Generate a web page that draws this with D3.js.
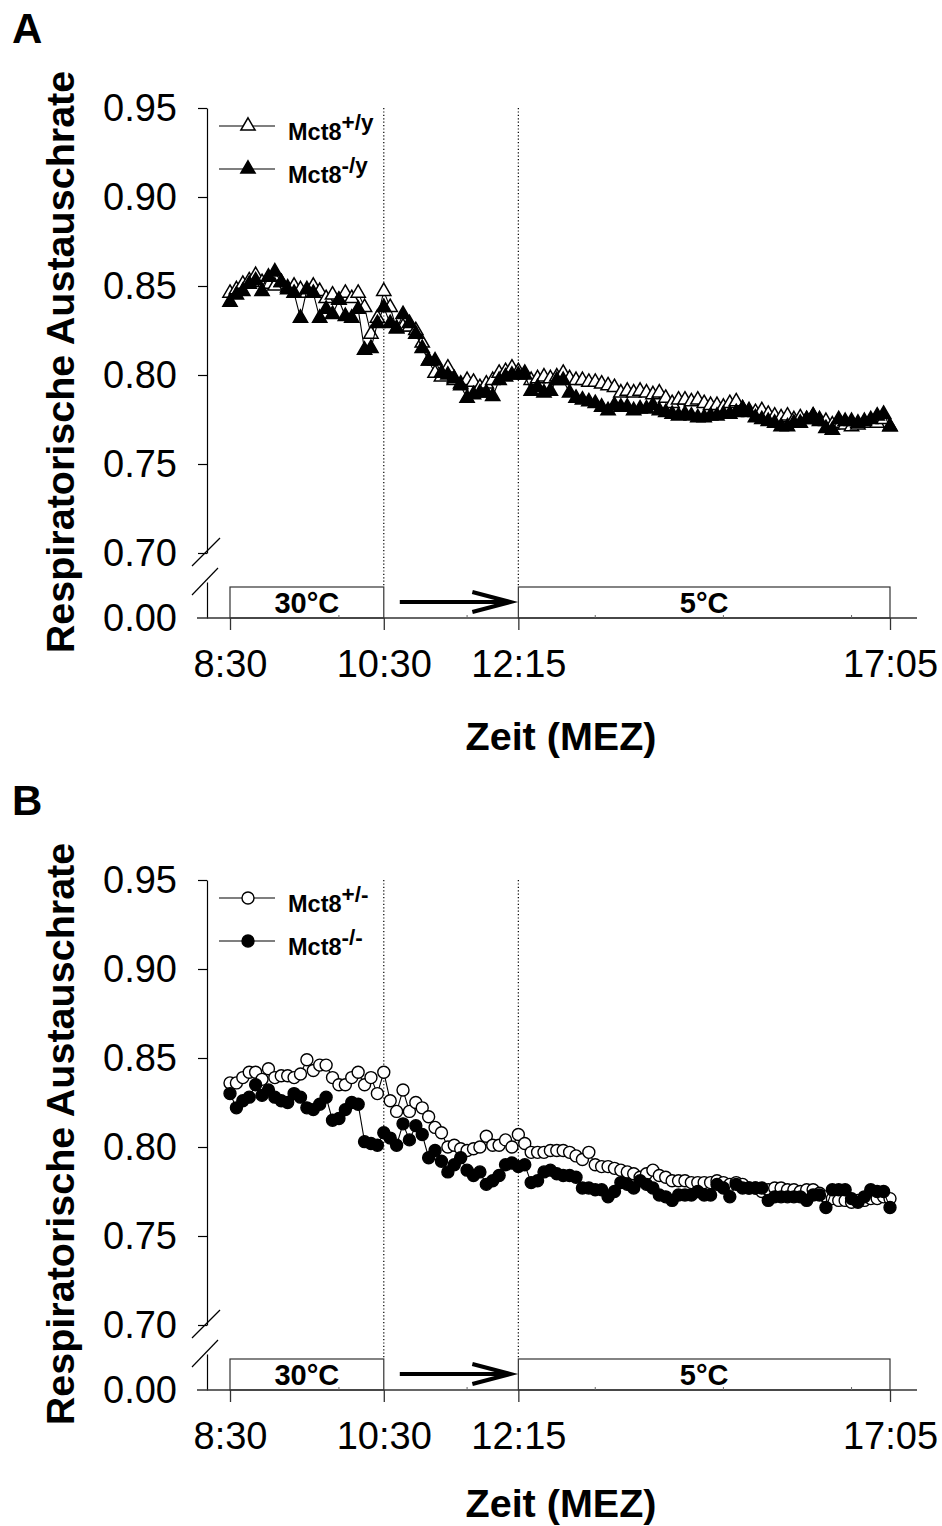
<!DOCTYPE html>
<html><head><meta charset="utf-8">
<script src="https://cdn.jsdelivr.net/npm/d3@7"></script>
<style>body{margin:0;background:#fff}</style>
</head><body>
<svg id="chart" width="942" height="1526"></svg>
<script>
// ---------- data ----------
const sampleStepMin = 5;               // minutes between samples, starting 8:30
const xTickMinutes = [0, 120, 225, 515];
const xTickLabels = ["8:30", "10:30", "12:15", "17:05"];
const minorTickMinutes = [85, 185, 285, 385, 485];
const yTicks = [0.70, 0.75, 0.80, 0.85, 0.90, 0.95];
const zeroTick = [0.00];
const phaseLabels = ["30°C", "5°C"];
const phaseStart = [0, 225];
const phaseEnd = [120, 515];
const switchMarks = [120, 225];
const panelLabels = ["A", "B"];
const yAxisTitle = "Respiratorische Austauschrate";
const xAxisTitle = "Zeit (MEZ)";
const legendA = [["Mct8", "+/y"], ["Mct8", "-/y"]];
const legendB = [["Mct8", "+/-"], ["Mct8", "-/-"]];

const rqA_wt = [
0.846,0.848,0.851,0.853,0.856,0.852,0.851,0.850,0.852,0.849,
0.850,0.848,0.846,0.850,0.847,0.843,0.845,0.842,0.846,0.843,
0.846,0.838,0.823,0.832,0.847,0.838,0.826,0.827,0.827,0.825,
0.818,0.808,0.801,0.799,0.804,0.797,0.795,0.797,0.796,0.793,
0.795,0.797,0.801,0.802,0.804,0.802,0.801,0.797,0.798,0.799,
0.798,0.799,0.801,0.798,0.797,0.797,0.796,0.796,0.795,0.794,
0.793,0.790,0.791,0.790,0.791,0.790,0.789,0.790,0.787,0.784,
0.786,0.786,0.785,0.786,0.784,0.783,0.783,0.782,0.784,0.785,
0.781,0.780,0.779,0.780,0.778,0.777,0.776,0.777,0.775,0.776,
0.775,0.777,0.775,0.774,0.772,0.773,0.772,0.771,0.772,0.773,
0.774,0.773,0.775,0.771];
const rqA_ko = [
0.841,0.845,0.847,0.851,0.853,0.847,0.855,0.858,0.852,0.848,
0.846,0.832,0.848,0.846,0.832,0.837,0.834,0.842,0.833,0.832,
0.837,0.814,0.815,0.829,0.838,0.829,0.826,0.834,0.829,0.823,
0.815,0.808,0.808,0.801,0.800,0.798,0.794,0.787,0.789,0.790,
0.790,0.788,0.797,0.799,0.800,0.800,0.800,0.791,0.793,0.790,
0.791,0.797,0.797,0.790,0.787,0.786,0.785,0.784,0.782,0.780,
0.783,0.782,0.782,0.780,0.781,0.781,0.783,0.780,0.779,0.778,
0.777,0.778,0.777,0.776,0.776,0.777,0.777,0.778,0.778,0.779,
0.781,0.779,0.776,0.775,0.774,0.773,0.771,0.771,0.773,0.773,
0.775,0.777,0.774,0.770,0.769,0.775,0.774,0.774,0.773,0.774,
0.775,0.777,0.778,0.771];
const rqB_wt = [
0.836,0.836,0.839,0.842,0.842,0.838,0.844,0.839,0.840,0.840,
0.839,0.841,0.849,0.843,0.846,0.846,0.839,0.835,0.835,0.839,
0.842,0.835,0.839,0.830,0.842,0.826,0.820,0.832,0.820,0.825,
0.822,0.817,0.811,0.808,0.800,0.801,0.799,0.798,0.799,0.800,
0.806,0.801,0.801,0.804,0.800,0.807,0.802,0.797,0.797,0.797,
0.798,0.798,0.798,0.797,0.795,0.793,0.797,0.790,0.789,0.789,
0.788,0.787,0.786,0.785,0.783,0.785,0.787,0.784,0.783,0.781,
0.781,0.781,0.780,0.780,0.780,0.780,0.781,0.780,0.779,0.780,
0.779,0.777,0.777,0.775,0.776,0.777,0.777,0.776,0.776,0.775,
0.776,0.776,0.774,0.772,0.771,0.770,0.770,0.769,0.770,0.770,
0.771,0.771,0.772,0.771];
const rqB_ko = [
0.830,0.822,0.826,0.828,0.835,0.829,0.832,0.828,0.826,0.825,
0.830,0.828,0.822,0.821,0.824,0.828,0.815,0.816,0.821,0.825,
0.824,0.803,0.802,0.801,0.808,0.805,0.801,0.813,0.804,0.812,
0.807,0.794,0.798,0.792,0.786,0.790,0.794,0.787,0.784,0.786,
0.779,0.781,0.784,0.790,0.791,0.789,0.790,0.780,0.781,0.786,
0.787,0.785,0.784,0.784,0.783,0.777,0.777,0.776,0.776,0.772,
0.775,0.780,0.779,0.777,0.781,0.779,0.777,0.773,0.772,0.770,
0.773,0.773,0.773,0.775,0.773,0.773,0.779,0.777,0.772,0.779,
0.777,0.777,0.777,0.777,0.770,0.772,0.772,0.772,0.772,0.772,
0.770,0.773,0.773,0.766,0.776,0.776,0.776,0.771,0.769,0.772,
0.776,0.775,0.775,0.766];

// ---------- drawing ----------
const FONT = "'Liberation Sans', Arial, Helvetica, sans-serif";
const svg = d3.select("#chart");
const x = d3.scaleLinear().domain([0, 515]).range([230, 890]);

function toPoints(arr) { return arr.map((v, i) => ({ t: i * sampleStepMin, v })); }

const panels = [
  { off: 0, xTitleY: 750, label: panelLabels[0], legend: legendA, symbol: "tri", wt: rqA_wt, ko: rqA_ko },
  { off: 772, xTitleY: 1517, label: panelLabels[1], legend: legendB, symbol: "circ", wt: rqB_wt, ko: rqB_ko }
];

function marker(sel, type, filled) {
  if (type === "tri") {
    sel.append("path")
      .attr("d", d3.symbol().type(d3.symbolTriangle).size(88)())
      .attr("fill", filled ? "#000" : "#fff")
      .attr("stroke", "#000").attr("stroke-width", 1.5);
  } else {
    sel.append("circle").attr("r", 6)
      .attr("fill", filled ? "#000" : "#fff")
      .attr("stroke", "#000").attr("stroke-width", 1.4);
  }
}

panels.forEach(p => {
  const g = svg.append("g");
  const off = p.off;
  const y = d3.scaleLinear().domain([0.70, 0.95]).range([553 + off, 108 + off]);
  const yLow = d3.scaleLinear().domain([0, 0.02]).range([618 + off, 582 + off]);
  const axisX0 = 207;

  // panel letter
  g.append("text").attr("x", 12).attr("y", 43 + off).text(p.label)
    .attr("font-family", FONT).attr("font-weight", "bold").attr("font-size", 42);

  // y title
  g.append("text").attr("transform", `translate(74,${362 + off}) rotate(-90)`)
    .attr("text-anchor", "middle").attr("font-family", FONT).attr("font-weight", "bold")
    .attr("font-size", 39.5).text(yAxisTitle);

  // x title
  g.append("text").attr("x", 561).attr("y", p.xTitleY).attr("text-anchor", "middle")
    .attr("font-family", FONT).attr("font-weight", "bold").attr("font-size", 39.5).text(xAxisTitle);

  // dotted switch lines
  g.selectAll("line.sw").data(switchMarks).join("line")
    .attr("x1", d => x(d)).attr("x2", d => x(d))
    .attr("y1", y(0.95)).attr("y2", 587 + off)
    .attr("stroke", "#000").attr("stroke-width", 1.2).attr("stroke-dasharray", "1.2,2.2");

  // upper y axis
  const ya = g.append("g").attr("transform", `translate(${axisX0},0)`)
    .call(d3.axisLeft(y).tickValues(yTicks).tickFormat(d3.format(".2f")).tickSize(9).tickSizeOuter(0).tickPadding(21));
  // lower y axis
  const yb = g.append("g").attr("transform", `translate(${axisX0},0)`)
    .call(d3.axisLeft(yLow).tickValues(zeroTick).tickFormat(d3.format(".2f")).tickSize(0).tickSizeOuter(0).tickPadding(30));
  [ya, yb].forEach(a => {
    a.selectAll("text").attr("font-family", FONT).attr("font-size", 38).attr("fill", "#000");
    a.selectAll("line,path").attr("stroke", "#000").attr("stroke-width", 1.2);
  });

  // break slashes
  [[192, 566, 220, 538], [192, 595, 218, 568]].forEach(s => {
    g.append("line").attr("x1", s[0]).attr("y1", s[1] + off).attr("x2", s[2]).attr("y2", s[3] + off)
      .attr("stroke", "#000").attr("stroke-width", 1.2);
  });

  // phase boxes
  phaseLabels.forEach((lab, i) => {
    g.append("rect").attr("x", x(phaseStart[i])).attr("y", 587 + off)
      .attr("width", x(phaseEnd[i]) - x(phaseStart[i])).attr("height", 31)
      .attr("fill", "#fff").attr("stroke", "#333").attr("stroke-width", 1.2);
    g.append("text").attr("x", (x(phaseStart[i]) + x(phaseEnd[i])) / 2).attr("y", 613 + off)
      .attr("text-anchor", "middle").attr("font-family", FONT).attr("font-weight", "bold")
      .attr("font-size", 29).text(lab);
  });
  // arrow between phases
  const ax1 = x(phaseEnd[0]) + 16, ax2 = x(phaseStart[1]) - 8, ay = 602 + off;
  g.append("line").attr("x1", ax1).attr("x2", ax2).attr("y1", ay).attr("y2", ay)
    .attr("stroke", "#000").attr("stroke-width", 4);
  g.append("path").attr("d", `M${ax2 - 38},${ay - 10} L${ax2},${ay} L${ax2 - 38},${ay + 10}`)
    .attr("fill", "none").attr("stroke", "#000").attr("stroke-width", 4).attr("stroke-linejoin", "miter");

  // x axis
  g.append("line").attr("x1", 197).attr("x2", 917).attr("y1", 618 + off).attr("y2", 618 + off)
    .attr("stroke", "#333").attr("stroke-width", 1.3);
  const xa = g.append("g").attr("transform", `translate(0,${618 + off})`)
    .call(d3.axisBottom(x).tickValues(xTickMinutes).tickFormat((d, i) => xTickLabels[i]).tickSize(12).tickSizeOuter(0).tickPadding(20));
  xa.select(".domain").remove();
  xa.selectAll("line").attr("stroke", "#333").attr("stroke-width", 1.3);
  xa.selectAll("text").attr("font-family", FONT).attr("font-size", 38).attr("fill", "#000");
  g.selectAll("line.minor").data(minorTickMinutes).join("line")
    .attr("x1", d => x(d)).attr("x2", d => x(d)).attr("y1", 618 + off).attr("y2", 615 + off)
    .attr("stroke", "#666").attr("stroke-width", 1);

  // series
  const line = d3.line().x(d => x(d.t)).y(d => y(d.v));
  [[p.wt, false], [p.ko, true]].forEach(([arr, filled]) => {
    const pts = toPoints(arr);
    g.append("path").datum(pts).attr("d", line).attr("fill", "none")
      .attr("stroke", "#000").attr("stroke-width", 1.1);
    g.append("g").selectAll("g").data(pts).join("g")
      .attr("transform", d => `translate(${x(d.t)},${y(d.v)})`)
      .each(function () { marker(d3.select(this), p.symbol, filled); });
  });

  // legend
  const legY = [126 + off, 169 + off];
  p.legend.forEach((lab, i) => {
    const lg = g.append("g");
    lg.append("line").attr("x1", 219).attr("x2", 275).attr("y1", legY[i]).attr("y2", legY[i])
      .attr("stroke", "#000").attr("stroke-width", 1.2);
    const m = lg.append("g").attr("transform", `translate(248,${legY[i]})`);
    marker(m, p.symbol, i === 1);
    const t = lg.append("text").attr("x", 288).attr("y", legY[i] + 14)
      .attr("font-family", FONT).attr("font-weight", "bold").attr("font-size", 23.5);
    t.append("tspan").text(lab[0]);
    t.append("tspan").attr("dy", -10).attr("font-size", 22.5).text(lab[1]);
  });
});
</script>
</body></html>
